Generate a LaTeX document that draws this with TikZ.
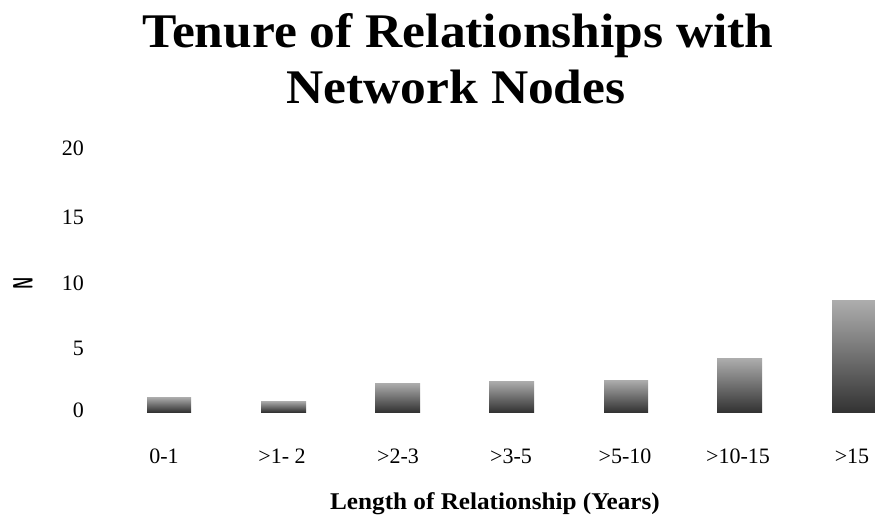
\documentclass[tikz,border=0pt]{standalone}
\usepackage{fontspec}
\setmainfont{Liberation Serif}
\begin{document}
\begin{tikzpicture}[x=1pt,y=-1pt,
  bar/.style={draw=none,top color=black!32,bottom color=black!80},
  ticklab/.style={anchor=east,inner sep=0pt,font=\fontsize{22}{22}\selectfont},
  catlab/.style={inner sep=0pt,font=\fontsize{22}{22}\selectfont},
  titlefont/.style={inner sep=0pt,font=\fontsize{46}{46}\selectfont\bfseries},
  axtitle/.style={inner sep=0pt,font=\fontsize{24}{24}\selectfont\bfseries}]
\useasboundingbox (0,0) rectangle (875,523);
% title
\node[titlefont,anchor=base] (t1) at (458,47) {\scalebox{1.12}[1.05]{Tenure of Relationships with}};
\node[titlefont,anchor=base] (t2) at (456,103) {\scalebox{1.12}[1.05]{Network Nodes}};
% y axis labels
\node[ticklab] (y20) at (84,148) {20};
\node[ticklab] (y15) at (84,217) {15};
\node[ticklab] (y10) at (84,283) {10};
\node[ticklab] (y5)  at (84,348) {5};
\node[ticklab] (y0)  at (84,410) {0};
\node[inner sep=0pt,rotate=90,font=\fontsize{28}{28}\selectfont\sffamily\bfseries] (ylab) at (23,283) {\scalebox{0.55}[1]{N}};
% bars
\path[bar] (147,397) rectangle (191,412) node[pos=0.5] (b1) {};
\path[bar] (261,401) rectangle (306,412) node[pos=0.5] (b2) {};
\path[bar] (375,383) rectangle (420,412) node[pos=0.5] (b3) {};
\path[bar] (489,381) rectangle (534,412) node[pos=0.5] (b4) {};
\path[bar] (604,380) rectangle (648,412) node[pos=0.5] (b5) {};
\path[bar] (717,358) rectangle (762,412) node[pos=0.5] (b6) {};
\path[bar] (832,300) rectangle (877,412) node[pos=0.5] (b7) {};
% category labels
\node[catlab] (c1) at (164,456) {0-1};
\node[catlab] (c2) at (282,456) {>1- 2};
\node[catlab] (c3) at (398,456) {>2-3};
\node[catlab] (c4) at (511,456) {>3-5};
\node[catlab] (c5) at (625,456) {>5-10};
\node[catlab] (c6) at (738,456) {>10-15};
\node[catlab] (c7) at (852,456) {>15};
% x axis title
\node[axtitle] (xlab) at (495,504) {\scalebox{1.05}[1]{Length of Relationship (Years)}};
\end{tikzpicture}
\end{document}
